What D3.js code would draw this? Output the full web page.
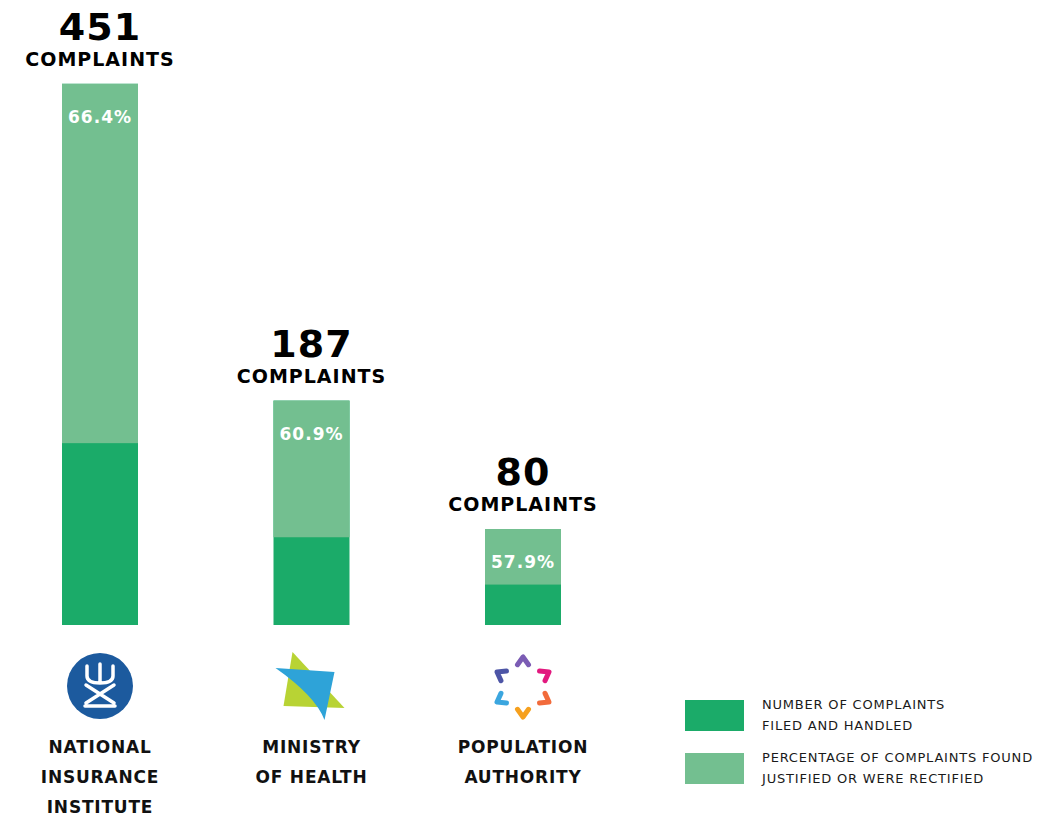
<!DOCTYPE html>
<html>
<head>
<meta charset="utf-8">
<script src="https://cdn.jsdelivr.net/npm/d3@7"></script>
<style>
  body { margin: 0; background: #fff; }
  svg { display: block; }
  text { font-family: "DejaVu Sans", sans-serif; }
</style>
</head>
<body>
<div id="chart"></div>
<script>
var categories = ["nii", "moh", "pa"],
	labelLines = [["NATIONAL", "INSURANCE", "INSTITUTE"], ["MINISTRY", "OF HEALTH"], ["POPULATION", "AUTHORITY"]],
	complaints = [451, 187, 80],
	justifiedPct = [66.4, 60.9, 57.9],
	legendLabels = [["NUMBER OF COMPLAINTS", "FILED AND HANDLED"], ["PERCENTAGE OF COMPLAINTS FOUND", "JUSTIFIED OR WERE RECTIFIED"]];

var width = 1044,
	height = 818,
	bar_w = 76,
	dark = "#1bab69",
	light = "#73bf90";

var svg = d3.select("#chart").append("svg")
	.attr("width", width)
	.attr("height", height);

var x = d3.scalePoint().domain(categories).range([100, 523]);
var y = d3.scaleLinear().domain([0, 500]).range([625, 25]);

var rows = categories.map(function (c, i) {
	return { key: c, count: complaints[i], pct: justifiedPct[i], lines: labelLines[i] };
});

var g = svg.selectAll("g.bar").data(rows).enter().append("g")
	.attr("class", "bar")
	.attr("transform", function (d) { return "translate(" + x(d.key) + ",0)"; });

// dark = whole count, light = justified share on top
g.append("rect")
	.attr("x", -bar_w / 2)
	.attr("width", bar_w)
	.attr("y", function (d) { return y(d.count); })
	.attr("height", function (d) { return y(0) - y(d.count); })
	.attr("fill", dark);

g.append("rect")
	.attr("x", -bar_w / 2)
	.attr("width", bar_w)
	.attr("y", function (d) { return y(d.count); })
	.attr("height", function (d) { return y(d.count * (1 - d.pct / 100)) - y(d.count); })
	.attr("fill", light);

g.append("text")
	.attr("text-anchor", "middle")
	.attr("y", function (d) { return y(d.count) + 39; })
	.attr("fill", "#fff")
	.attr("font-size", 17)
	.attr("font-weight", "bold")
	.attr("letter-spacing", 1)
	.text(function (d) { return d.pct.toFixed(1) + "%"; });

g.append("text")
	.attr("text-anchor", "middle")
	.attr("y", function (d) { return y(d.count) - 44; })
	.attr("font-size", 38)
	.attr("font-weight", "bold")
	.attr("letter-spacing", 1)
	.attr("fill", "#000")
	.text(function (d) { return d.count; });

g.append("text")
	.attr("text-anchor", "middle")
	.attr("y", function (d) { return y(d.count) - 18; })
	.attr("font-size", 19)
	.attr("font-weight", "bold")
	.attr("letter-spacing", 1)
	.attr("fill", "#000")
	.text("COMPLAINTS");

g.each(function (d) {
	var t = d3.select(this).append("text")
		.attr("text-anchor", "middle")
		.attr("font-size", 17)
		.attr("font-weight", "bold")
		.attr("letter-spacing", 0.8)
		.attr("fill", "#111");
	d.lines.forEach(function (l, i) {
		t.append("tspan").attr("x", 0).attr("y", 753 + i * 30).text(l);
	});
});

// logos, roughly drawn
var logoY = 686;
var l1 = svg.append("g").attr("transform", "translate(" + x("nii") + "," + logoY + ")");
l1.append("circle").attr("r", 33).attr("fill", "#1c5a9e");
l1.append("path")
	.attr("d", "M-13,-20 L-13,-10 Q-13,-3 0,-3 Q13,-3 13,-10 L13,-20 M0,-22 L0,-3 " +
		"M-14,-1 L14,17 M14,-1 L-14,17 M-15,20 L15,20")
	.attr("fill", "none").attr("stroke", "#fff").attr("stroke-width", 3.5)
	.attr("stroke-linecap", "round").attr("stroke-linejoin", "round");

var l2 = svg.append("g").attr("transform", "translate(" + x("moh") + "," + logoY + ")");
l2.append("path").attr("d", "M-19,-34 L33,22 L-28,20 Z").attr("fill", "#b8d334");
l2.append("path").attr("d", "M-36,-18 L23,-14 L13,34 Q4,10 -36,-18 Z").attr("fill", "#2ea3d8");

var l3 = svg.append("g").attr("transform", "translate(" + x("pa") + "," + (logoY + 1) + ")");
var chevCols = ["#7b5cb4", "#e2197f", "#f26b3b", "#f6a01e", "#3ba6df", "#4d55a6"];
chevCols.forEach(function (c, i) {
	var a = (-90 + i * 60) * Math.PI / 180,
		r = 30, s = 9.5;
	var tx = r * Math.cos(a), ty = r * Math.sin(a);
	var a1 = a + Math.PI - 0.62, a2 = a + Math.PI + 0.62;
	l3.append("path")
		.attr("d", "M" + (tx + s * Math.cos(a1)) + "," + (ty + s * Math.sin(a1)) + " L" + tx + "," + ty + " L" + (tx + s * Math.cos(a2)) + "," + (ty + s * Math.sin(a2)))
		.attr("fill", "none").attr("stroke", c).attr("stroke-width", 5)
		.attr("stroke-linecap", "round").attr("stroke-linejoin", "round");
});

// legend
var leg = svg.selectAll("g.legend").data(legendLabels).enter().append("g")
	.attr("class", "legend")
	.attr("transform", function (d, i) { return "translate(685," + (700 + i * 53) + ")"; });
leg.append("rect").attr("width", 59).attr("height", 31)
	.attr("fill", function (d, i) { return i == 0 ? dark : light; });
leg.each(function (d) {
	var t = d3.select(this).append("text")
		.attr("font-size", 13)
		.attr("letter-spacing", 0.8)
		.attr("fill", "#1a1a1a");
	d.forEach(function (l, i) {
		t.append("tspan").attr("x", 77).attr("y", 9 + i * 21).text(l);
	});
});
</script>
</body>
</html>
